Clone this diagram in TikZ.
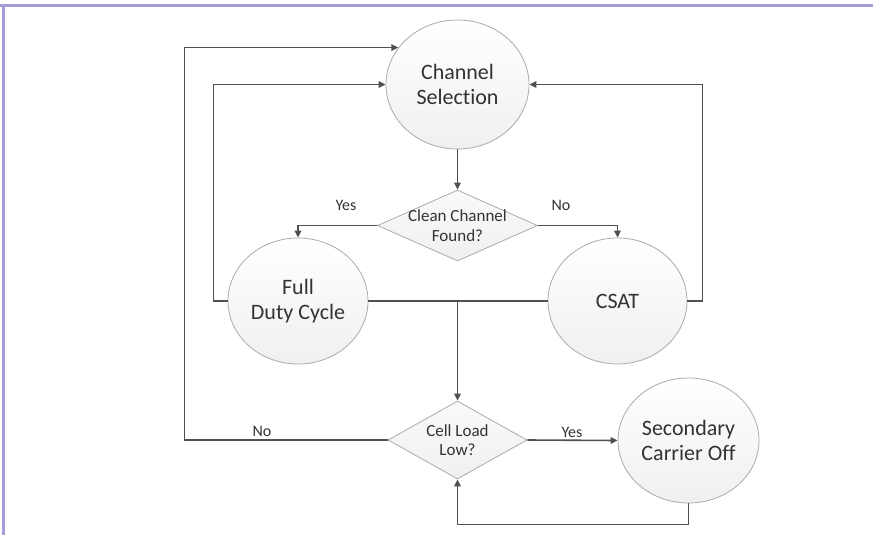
\documentclass[tikz,border=0pt]{standalone}
\usepackage{fontspec}
\setmainfont{Carlito}[Ligatures=NoCommon]
\usetikzlibrary{shapes.geometric,arrows.meta}
\definecolor{framec}{HTML}{A59CD9}
\definecolor{lnc}{HTML}{505050}
\definecolor{txtc}{HTML}{333333}
\definecolor{bordc}{HTML}{ABABAB}
\begin{document}
\begin{tikzpicture}[x=1pt,y=-1pt,
  bubble/.style={ellipse, draw=bordc, line width=0.8pt, top color=white, bottom color=black!6,
    inner sep=0pt, text=txtc, font=\fontsize{22}{25}\selectfont, align=center},
  dia/.style={diamond, draw=bordc, line width=0.8pt, top color=black!2, bottom color=black!6, inner sep=0pt},
  dtext/.style={text=txtc, font=\fontsize{17}{19.5}\selectfont, align=center},
  conn/.style={draw=lnc, line width=1.6pt},
  arr/.style={conn, -{Triangle[length=7pt,width=6.5pt]}},
  lab/.style={text=txtc, font=\fontsize{16}{18}\selectfont}]
\useasboundingbox (0,0) rectangle (873,535);
\fill[white] (0,0) rectangle (873,535);
\draw[framec, line width=3pt] (0,5.5) -- (873,5.5);
\draw[framec, line width=3pt] (3,5.5) -- (3,535);

\node[bubble, minimum width=143, minimum height=129] (cs) at (457.5,84.5) {Channel\\Selection};
\node[dia, minimum width=160, minimum height=71,
  label={[dtext]center:Clean Channel\\Found?}] (clean) at (457.5,225.5) {};
\node[bubble, minimum width=140, minimum height=126] (fdc) at (298,301) {Full\\Duty Cycle};
\node[bubble, minimum width=139, minimum height=126] (csat) at (617.5,301) {CSAT};
\node[dia, minimum width=139, minimum height=78,
  label={[dtext]center:Cell Load\\Low?}] (cell) at (457.5,440) {};
\node[bubble, minimum width=141, minimum height=125] (sco) at (688.5,440.5) {Secondary\\Carrier Off};

\draw[arr] (cs.south) -- (clean.north);
\draw[arr] (clean.west) -| (fdc.north);
\draw[arr] (clean.east) -| (csat.north);
\draw[conn] (fdc.east) -- (csat.west);
\draw[arr] (cell.north |- fdc.east) -- (cell.north);
\draw[arr] (fdc.west) -- ++(-14,0) |- (cs.west);
\draw[arr] (csat.east) -- ++(15,0) |- (cs.east);
\draw[arr] (cell.west) -- ++(-203,0) |- (cs.148);
\draw[arr] (cell.east) -- (sco.west);
\draw[arr] (sco.south) -- ++(0,21) -| (cell.south);

\node[lab] (yes1) at (346,205) {Yes};
\node[lab] (no1) at (561,205) {No};
\node[lab] (no2) at (262,431) {No};
\node[lab] (yes2) at (572,432) {Yes};
\end{tikzpicture}
\end{document}
